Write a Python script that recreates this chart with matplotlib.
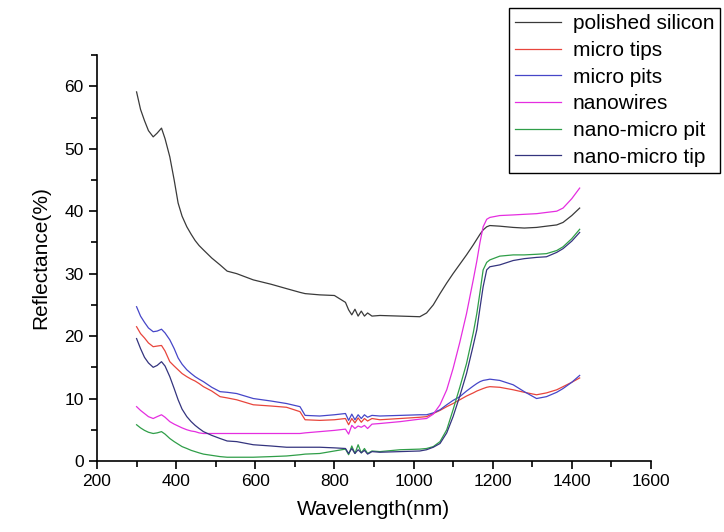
import matplotlib
matplotlib.use("Agg")
import matplotlib.pyplot as plt
from matplotlib.ticker import MultipleLocator

plt.rcParams['font.family'] = ['Liberation Sans', 'DejaVu Sans']

# Wavelength grid (nm) shared by all spectra
wavelength = [300, 310, 320, 330, 342, 352, 363, 372, 384, 395, 405, 415, 427, 438, 448,
              458, 469, 490, 511, 529, 553, 595, 640, 679, 713, 726, 763, 800, 828, 836,
              844, 852, 860, 868, 876, 884, 895, 915, 966, 1016, 1033, 1050, 1067, 1084,
              1100, 1117, 1134, 1151, 1160, 1168, 1176, 1185, 1193, 1218, 1252, 1280,
              1311, 1336, 1362, 1378, 1400, 1420]

# Reflectance (%) for each surface
polished_silicon = [59.1, 56.3, 54.5, 52.9, 51.9, 52.5, 53.3, 51.6, 48.7, 45.0, 41.3, 39.2,
                    37.5, 36.3, 35.3, 34.5, 33.8, 32.5, 31.4, 30.4, 30.0, 29.0, 28.3, 27.6,
                    27.0, 26.8, 26.6, 26.5, 25.4, 24.2, 23.4, 24.3, 23.2, 24.0, 23.2, 23.7,
                    23.2, 23.3, 23.2, 23.1, 23.7, 25.0, 26.8, 28.5, 30.0, 31.5, 33.0, 34.6,
                    35.5, 36.3, 37.0, 37.5, 37.7, 37.6, 37.4, 37.3, 37.4, 37.6, 37.8, 38.2,
                    39.3, 40.5]
micro_tips = [21.5, 20.4, 19.7, 18.9, 18.3, 18.4, 18.5, 17.6, 15.9, 15.2, 14.6, 14.0, 13.5,
              13.1, 12.8, 12.4, 11.9, 11.2, 10.3, 10.1, 9.8, 9.0, 8.8, 8.6, 7.9, 6.6, 6.5,
              6.6, 6.8, 5.8, 6.8, 6.1, 6.9, 6.2, 6.8, 6.4, 6.8, 6.6, 6.8, 7.0, 7.1, 7.6,
              8.1, 8.7, 9.2, 9.8, 10.4, 10.9, 11.2, 11.4, 11.6, 11.8, 11.9, 11.8, 11.4,
              11.0, 10.6, 10.9, 11.4, 11.9, 12.6, 13.3]
micro_pits = [24.7, 23.2, 22.2, 21.3, 20.7, 20.8, 21.1, 20.5, 19.4, 18.0, 16.5, 15.5, 14.6,
              14.0, 13.5, 13.1, 12.7, 11.8, 11.1, 11.0, 10.8, 10.0, 9.6, 9.2, 8.7, 7.3, 7.2,
              7.4, 7.6, 6.5, 7.5, 6.6, 7.4, 6.8, 7.4, 7.0, 7.3, 7.2, 7.3, 7.4, 7.4, 7.7,
              8.2, 9.0, 9.7, 10.3, 11.2, 12.0, 12.4, 12.7, 12.9, 13.0, 13.1, 12.9, 12.2,
              11.1, 10.0, 10.3, 11.0, 11.6, 12.6, 13.7]
nanowires = [8.7, 8.1, 7.6, 7.1, 6.8, 7.1, 7.4, 7.0, 6.3, 5.9, 5.6, 5.3, 5.0, 4.8, 4.7,
             4.5, 4.4, 4.4, 4.4, 4.4, 4.4, 4.4, 4.4, 4.4, 4.4, 4.5, 4.7, 4.9, 5.1, 4.3,
             5.7, 5.2, 5.6, 5.4, 5.7, 5.2, 5.9, 6.0, 6.3, 6.7, 6.8, 7.5, 9.0, 11.4, 14.8,
             19.0, 23.6, 29.0, 32.0, 35.0, 37.5, 38.7, 39.0, 39.3, 39.4, 39.5, 39.6, 39.8,
             40.0, 40.5, 42.0, 43.7]
nano_micro_pit = [5.8, 5.3, 4.9, 4.6, 4.4, 4.5, 4.7, 4.3, 3.6, 3.1, 2.7, 2.3, 2.0, 1.7,
                  1.5, 1.3, 1.1, 0.9, 0.7, 0.6, 0.6, 0.6, 0.7, 0.8, 1.0, 1.1, 1.2, 1.6,
                  1.9, 1.0, 2.4, 1.2, 2.6, 1.3, 2.0, 1.2, 1.6, 1.5, 1.8, 1.9, 2.0, 2.3,
                  3.1, 5.0, 8.2, 11.8, 15.6, 20.5, 23.6, 27.0, 30.6, 31.8, 32.2, 32.8,
                  33.0, 33.0, 33.1, 33.2, 33.7, 34.3, 35.6, 37.1]
nano_micro_tip = [19.6, 18.0, 16.6, 15.7, 15.0, 15.3, 15.9, 15.2, 13.5, 11.6, 9.8, 8.3,
                  7.1, 6.3, 5.7, 5.2, 4.7, 4.1, 3.6, 3.2, 3.1, 2.6, 2.4, 2.2, 2.2, 2.2,
                  2.2, 2.1, 2.0, 1.2, 2.0, 1.2, 1.8, 1.3, 1.7, 1.1, 1.5, 1.4, 1.5, 1.6,
                  1.8, 2.2, 2.8, 4.5, 7.1, 10.4, 14.0, 18.5, 21.0, 24.5, 27.9, 30.6, 31.1,
                  31.4, 32.1, 32.4, 32.6, 32.7, 33.4, 34.0, 35.2, 36.6]

labels = ['polished silicon', 'micro tips', 'micro pits', 'nanowires',
          'nano-micro pit', 'nano-micro tip']
series = [polished_silicon, micro_tips, micro_pits, nanowires, nano_micro_pit, nano_micro_tip]
colors = ['#3a3a3a', '#e8453c', '#4646c8', '#e52ee0', '#2f9e48', '#34347e']

fig = plt.figure(figsize=(7.24, 5.32), dpi=100)
ax = fig.add_axes([0.134, 0.1335, 0.765, 0.763])

for vals, lab, col in zip(series, labels, colors):
    ax.plot(wavelength, vals, color=col, lw=0.9, label=lab)

ax.set_xlim(200, 1600)
ax.set_ylim(0, 65)
ax.xaxis.set_major_locator(MultipleLocator(200))
ax.xaxis.set_minor_locator(MultipleLocator(100))
ax.yaxis.set_major_locator(MultipleLocator(10))
ax.yaxis.set_minor_locator(MultipleLocator(5))
ax.tick_params(which='major', direction='out', length=6, width=1.2, labelsize=12.5)
ax.tick_params(which='minor', direction='out', length=4, width=1.2)
for side in ['top', 'right']:
    ax.spines[side].set_visible(False)
for side in ['left', 'bottom']:
    ax.spines[side].set_linewidth(1.2)

ax.set_xlabel('Wavelength(nm)', fontsize=15, labelpad=8)
ax.set_ylabel('Reflectance(%)', fontsize=15, labelpad=10)

leg = ax.legend(loc='upper left', bbox_to_anchor=(509 / 724, 1 - 8 / 532),
                bbox_transform=fig.transFigure, borderaxespad=0, fontsize=15,
                fancybox=False, edgecolor='black', framealpha=1,
                handlelength=2.2, handletextpad=0.55, labelspacing=0.37,
                borderpad=0.3)
leg.get_frame().set_linewidth(1.0)

fig.savefig('out.png', dpi=100)
